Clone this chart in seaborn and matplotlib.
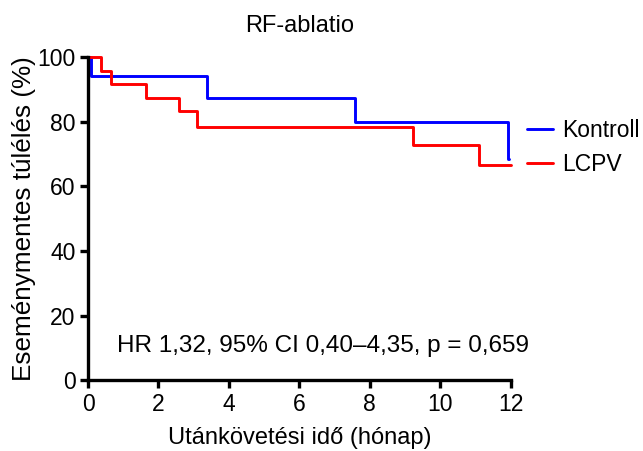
import pandas as pd
import matplotlib.pyplot as plt
import seaborn as sns

# Kaplan-Meier steps (months, % event-free)
kontroll_time = [0, 0.08, 3.37, 7.57, 11.92, 11.97]
kontroll_surv = [100, 94.1, 87.5, 80.1, 68.6, 68.6]

lcpv_time = [0, 0.36, 0.65, 1.65, 2.57, 3.10, 9.22, 11.10, 12.0]
lcpv_surv = [100, 95.8, 91.7, 87.5, 83.3, 78.5, 72.9, 66.7, 66.7]

groups = ['Kontroll', 'LCPV']
colors = {'Kontroll': '#0000ff', 'LCPV': '#ff0000'}

x_ticks = [0, 2, 4, 6, 8, 10, 12]
y_ticks = [0, 20, 40, 60, 80, 100]

df = pd.concat([
    pd.DataFrame({'time': kontroll_time, 'surv': kontroll_surv, 'group': 'Kontroll'}),
    pd.DataFrame({'time': lcpv_time, 'surv': lcpv_surv, 'group': 'LCPV'}),
])

sns.set_style('ticks')
plt.rcParams['font.family'] = ['Liberation Sans', 'DejaVu Sans']
plt.rcParams['text.color'] = 'black'
plt.rcParams['axes.labelcolor'] = 'black'
plt.rcParams['xtick.color'] = 'black'
plt.rcParams['ytick.color'] = 'black'

fig = plt.figure(figsize=(6.43, 4.51), dpi=100)
ax = fig.add_axes([0.137, 0.157, 0.657, 0.716])

sns.lineplot(data=df, x='time', y='surv', hue='group', hue_order=groups,
             palette=colors, estimator=None, sort=False, drawstyle='steps-post',
             linewidth=2.1, ax=ax)
for line in ax.lines:
    line.set_clip_on(False)

ax.set_xlim(0, 12)
ax.set_ylim(0, 100)
ax.set_xticks(x_ticks)
ax.set_yticks(y_ticks)
ax.set_xlabel('Utánkövetési idő (hónap)', fontsize=17, labelpad=8)
ax.set_ylabel('Eseménymentes túlélés (%)', fontsize=18.8, labelpad=1)
ax.set_title('RF-ablatio', fontsize=17, pad=18)
ax.tick_params(axis='both', labelsize=16.5, width=2.4, length=6, pad=3,
               direction='out', color='black')
for side in ['left', 'bottom']:
    ax.spines[side].set_linewidth(2.4)
    ax.spines[side].set_color('black')
sns.despine(ax=ax)

ax.text(0.555, 0.107, 'HR 1,32, 95% CI 0,40–4,35, p = 0,659', transform=ax.transAxes,
        ha='center', va='center', fontsize=17.5)

ax.legend(loc='center left', bbox_to_anchor=(1.0, 0.72), frameon=False,
          fontsize=16.5, handlelength=1.15, handletextpad=0.4, labelspacing=0.5,
          borderaxespad=0.3)

fig.savefig('out.png', dpi=100)
